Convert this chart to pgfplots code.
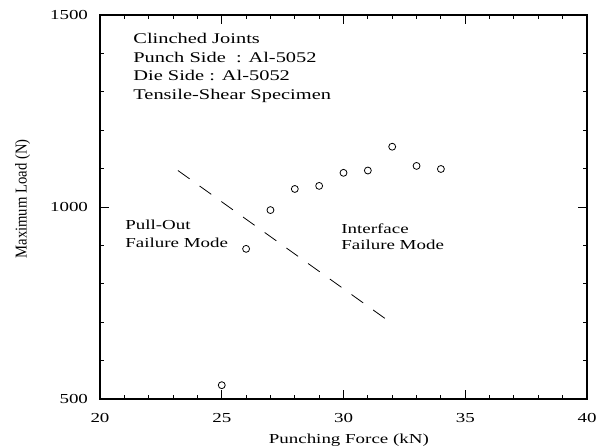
\documentclass[border=0pt]{standalone}
\usepackage{fontspec}
\setmainfont{Liberation Serif}
\newfontfamily\stfont{Liberation Serif}[FakeStretch=1.38]
\usepackage{graphicx}
\usepackage{pgfplots}
\pgfplotsset{compat=1.18}
\begin{document}
\begin{tikzpicture}[font=\stfont\fontsize{10.3}{13.7}\selectfont]
\begin{axis}[
  scale only axis,
  width=365.25pt, height=288pt,
  xmin=20, xmax=40, ymin=500, ymax=1500,
  xtick={20,25,30,35,40}, ytick={500,1000,1500},
  minor x tick num=4, minor y tick num=4,
  major tick length=6.5pt, minor tick length=3.2pt,
  tick style={line width=0.7pt, black},
  axis line style={line width=0.9pt},
  tick align=inside,
  /pgf/number format/1000 sep={},
  /pgf/number format/assume math mode=true,
  yticklabel style={xshift=-5.5pt},
  xticklabel style={yshift=-7pt},
  xlabel={Punching Force (kN)},
  ylabel={\scalebox{1}[1.13]{Maximum Load (N)}},
  every axis x label/.style={at={(axis description cs:0.511,0)}, anchor=base, yshift=-33.5pt},
  every axis y label/.style={at={([xshift=-58pt]axis description cs:0,0.521)}, rotate=90, anchor=center, font=\rmfamily\fontsize{11}{13}\selectfont},
  clip=false,
]
\addplot[only marks, mark=o, mark size=2.6pt, mark options={line width=0.6pt}] coordinates {
 (25,536) (26,891) (27,992) (28,1047) (29,1055) (30,1089) (31,1095) (32,1157) (33,1107) (34,1099)
};
\addplot[line width=0.6pt, dash pattern=on 10.7pt off 9.3pt] coordinates {(23.2,1095) (31.7,710)};
\begin{scope}[font=\stfont\fontsize{11.1}{13.7}\selectfont]
\node[anchor=base west, inner sep=0] at (axis cs:21.36,1424.5) {Clinched Joints};
\node[anchor=base west, inner sep=0] at (axis cs:21.36,1377) {Punch Side\ \ : Al-5052};
\node[anchor=base west, inner sep=0] at (axis cs:21.36,1329) {Die Side : Al-5052};
\node[anchor=base west, inner sep=0] at (axis cs:21.36,1281) {Tensile-Shear Specimen};
\end{scope}
\node[anchor=base west, inner sep=0] at (axis cs:21.03,942.7) {Pull-Out};
\node[anchor=base west, inner sep=0] at (axis cs:21.03,894) {Failure Mode};
\node[anchor=base west, inner sep=0] at (axis cs:29.9,931.5) {Interface};
\node[anchor=base west, inner sep=0] at (axis cs:29.9,890) {Failure Mode};
\coordinate (sw) at (rel axis cs:0,0);
\coordinate (ne) at (rel axis cs:1,1);
\end{axis}
\pgfresetboundingbox
\path[use as bounding box] ([shift={(-75pt,-36pt)}]sw) rectangle ([shift={(8.25pt,11.25pt)}]ne);
\end{tikzpicture}
\end{document}
